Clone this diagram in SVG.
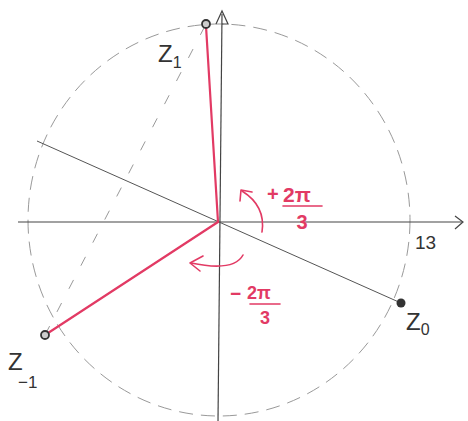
<svg xmlns="http://www.w3.org/2000/svg" width="468" height="421" viewBox="0 0 468 421">
<defs>
<style>
.axis{stroke:#444;stroke-width:1.2;fill:none}
.thin{stroke:#555;stroke-width:1;fill:none}
.dash{stroke:#999;stroke-width:1;fill:none;stroke-dasharray:14 8}
.dash2{stroke:#999;stroke-width:1;fill:none;stroke-dasharray:10 16}
.red{stroke:#e23a64;stroke-width:2.2;fill:none;stroke-linecap:round}
.redthin{stroke:#e23a64;stroke-width:1.6;fill:none;stroke-linecap:round;stroke-linejoin:round}
.lbl{font-family:"Liberation Sans",Arial,sans-serif;fill:#333}
.rlbl{font-family:"Liberation Sans",Arial,sans-serif;fill:#e23a64;font-weight:bold}
</style>
</defs>
<rect width="468" height="421" fill="#fff"/>
<g id="circle">
<ellipse cx="219" cy="220" rx="191" ry="196" class="dash"/>
</g>
<g id="connectors">
<line x1="18" y1="222" x2="462" y2="222" class="axis"/>
<polyline points="455,216 463,222 455,229" class="axis"/>
<line x1="218" y1="421" x2="222" y2="14" class="axis"/>
<polyline points="216,24 222,11 228,24 222,24" class="axis"/>
<line x1="37" y1="141" x2="401" y2="303" class="thin"/>
<line x1="45" y1="335" x2="206" y2="24" class="dash2"/>
<line x1="206" y1="26" x2="218" y2="222" class="red"/>
<line x1="45" y1="335" x2="218" y2="222" class="red"/>
<path d="M262,232 Q266,206 242,191" class="redthin"/>
<polyline points="240,201 241,190 252,192" class="redthin"/>
<path d="M243,255 Q234,272 191,263" class="redthin"/>
<polyline points="203,256 190,263 200,271" class="redthin"/>
</g>
<g id="z1">
<circle cx="206" cy="24" r="4" fill="#ccc" stroke="#333" stroke-width="1.8"/>
<text x="158" y="62" class="lbl" font-size="24">Z<tspan font-size="16" dy="6">1</tspan></text>
</g>
<g id="z0">
<circle cx="401" cy="303" r="4.5" fill="#333"/>
<text x="406" y="330" class="lbl" font-size="24">Z<tspan font-size="16" dy="5">0</tspan></text>
</g>
<g id="zm1">
<circle cx="45" cy="335" r="4" fill="#ccc" stroke="#333" stroke-width="1.8"/>
<text x="8" y="370" class="lbl" font-size="24">Z</text>
<text x="18" y="388" class="lbl" font-size="17">−1</text>
</g>
<g id="labels">
<text x="267" y="201" class="rlbl" font-size="20">+</text>
<text x="283" y="202" class="rlbl" font-size="21">2π</text>
<line x1="283" y1="206" x2="322" y2="206" class="redthin"/>
<text x="302" y="229" class="rlbl" font-size="20" text-anchor="middle">3</text>
<text x="230" y="300" class="rlbl" font-size="19">−</text>
<text x="247" y="299" class="rlbl" font-size="18">2π</text>
<line x1="250" y1="304" x2="280" y2="304" class="redthin"/>
<text x="265" y="324" class="rlbl" font-size="18" text-anchor="middle">3</text>
<text x="415" y="249" class="lbl" font-size="19">13</text>
</g>
</svg>
